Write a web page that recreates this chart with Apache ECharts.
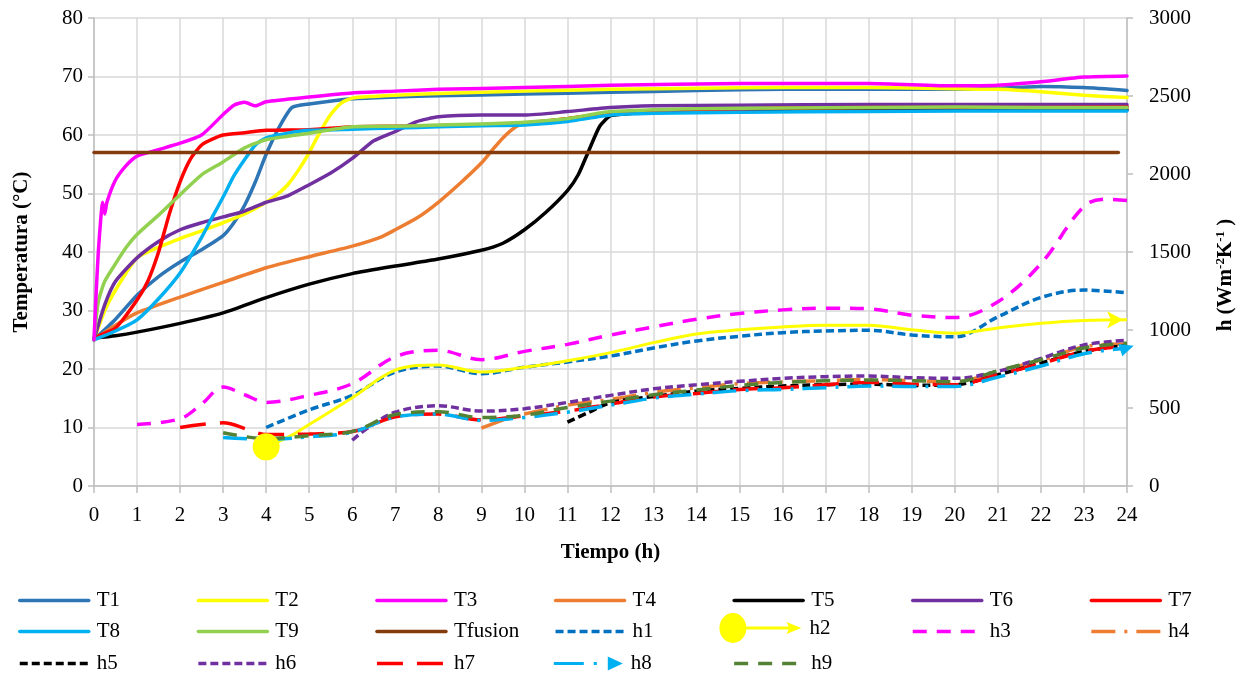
<!DOCTYPE html>
<html><head><meta charset="utf-8">
<script src="https://cdn.jsdelivr.net/npm/echarts@6/dist/echarts.min.js"></script>
<style>html,body{margin:0;padding:0;background:#fff}#c{width:1244px;height:677px}</style>
</head><body><div id="c"></div>
<script>
// ---- Temperature series (°C), time in hours ----
const tT1 = [0, 0.5, 1, 1.5, 2, 2.5, 3, 3.25, 3.5, 3.75, 4, 4.3, 4.6, 5, 6, 7, 8, 10, 12, 14, 16, 18, 20, 21, 22, 23, 24];
const vT1 = [25, 28.5, 32.6, 35.8, 38.3, 40.4, 42.8, 45, 48, 52, 56.7, 61.3, 64.7, 65.3, 66.2, 66.5, 66.7, 67, 67.3, 67.6, 67.8, 67.8, 67.8, 68, 68.3, 68.1, 67.6];
const tT2 = [0, 0.25, 0.5, 1, 1.5, 2, 2.5, 3, 3.5, 4, 4.25, 4.5, 4.75, 5, 5.25, 5.5, 5.75, 6, 6.5, 7, 8, 10, 12, 14, 16, 18, 20, 21, 22, 23, 24];
const vT2 = [25, 30, 33.5, 39, 40.8, 42.3, 43.6, 45, 46.5, 48.5, 49.8, 51.5, 54, 57, 60.5, 63.5, 65.5, 66.3, 66.6, 66.8, 67.1, 67.5, 67.8, 68, 68.1, 68.1, 67.9, 67.8, 67.4, 66.8, 66.4];
const tT3 = [0, 0.05, 0.1, 0.15, 0.2, 0.25, 0.3, 0.5, 0.75, 1, 1.5, 2, 2.5, 3, 3.25, 3.5, 3.75, 4, 5, 6, 7, 8, 10, 12, 15, 18, 20, 21, 22, 23, 24];
const vT3 = [25, 33, 40, 45, 48.5, 46.5, 48.5, 52.3, 54.8, 56.4, 57.5, 58.6, 60, 63.5, 65.1, 65.6, 65, 65.7, 66.5, 67.2, 67.5, 67.8, 68.1, 68.5, 68.8, 68.8, 68.4, 68.5, 69.1, 69.9, 70.1];
const tT4 = [0, 0.5, 1, 2, 3, 4, 5, 6, 6.65, 7, 7.5, 8, 8.5, 9, 9.25, 9.5, 9.8, 10, 11, 12, 14, 16, 18, 20, 22, 24];
const vT4 = [25, 27.5, 29.6, 32.3, 34.8, 37.3, 39.2, 41, 42.5, 43.8, 45.8, 48.5, 51.7, 55.2, 57.4, 59.5, 61.4, 62, 62.8, 63.8, 64.3, 64.7, 64.8, 64.8, 64.8, 64.9];
const tT5 = [0, 0.5, 1, 2, 3, 4, 5, 6, 7, 8, 9, 9.5, 10, 10.5, 11, 11.25, 11.5, 11.75, 12, 12.5, 13, 14, 16, 18, 20, 22, 24];
const vT5 = [25.3, 25.7, 26.3, 27.8, 29.6, 32.2, 34.5, 36.3, 37.6, 38.8, 40.3, 41.5, 43.8, 46.8, 50.5, 53.2, 57.4, 61.5, 63.3, 63.7, 64, 64.2, 64.3, 64.3, 64.3, 64.3, 64.3];
const tT6 = [0, 0.25, 0.5, 1, 1.5, 2, 2.5, 3, 3.5, 4, 4.5, 5, 5.5, 6, 6.5, 7, 7.5, 8, 9, 10, 11, 12, 13, 15, 18, 20, 22, 24];
const vT6 = [25, 31, 35, 39, 41.8, 43.8, 45, 46, 47, 48.5, 49.6, 51.5, 53.5, 56, 59, 60.6, 62.3, 63.1, 63.4, 63.4, 64, 64.7, 65, 65.1, 65.2, 65.2, 65.2, 65.2];
const tT7 = [0, 0.15, 0.5, 1, 1.25, 1.5, 1.75, 2, 2.25, 2.5, 2.75, 3, 3.5, 4, 5, 6, 7, 8, 10, 12, 14, 16, 18, 20, 22, 24];
const vT7 = [25, 25.8, 27, 31.8, 35, 40, 46.5, 52, 56, 58.3, 59.3, 60, 60.4, 60.8, 60.9, 61.4, 61.5, 61.6, 62, 63.6, 64.2, 64.6, 64.7, 64.7, 64.7, 64.8];
const tT8 = [0, 0.5, 1, 1.5, 2, 2.5, 2.75, 3, 3.25, 3.5, 3.75, 4, 4.5, 5, 6, 7, 8, 9, 10, 11, 12, 13, 15, 18, 20, 22, 24];
const vT8 = [25, 26.5, 28.4, 32, 36.4, 42.5, 46, 49.4, 53, 55.8, 58.3, 59.5, 60.3, 60.8, 61, 61.2, 61.4, 61.6, 61.7, 62.3, 63.4, 63.7, 63.9, 64, 64.1, 64.1, 64.1];
const tT9 = [0, 0.1, 0.25, 0.5, 0.75, 1, 1.5, 2, 2.5, 3, 3.5, 4, 5, 6, 7, 8, 9, 10, 11, 12, 14, 16, 18, 20, 22, 24];
const vT9 = [25, 31.5, 35, 38, 40.8, 43, 46.3, 49.8, 53.2, 55.4, 57.8, 59.2, 60.3, 61.4, 61.5, 61.7, 61.9, 62.2, 62.8, 64, 64.5, 64.6, 64.7, 64.8, 64.7, 64.7];
const tTf = [0, 23.8];
const vTf = [57, 57];

// ---- Heat transfer coefficient series h (W m-2 K-1) ----
const th1 = [4, 5, 6, 7, 8, 9, 10, 11, 12, 13, 14, 15, 16, 17, 18, 19, 20, 21, 22, 23, 24];
const vh1 = [375, 488, 581, 731, 769, 720, 761, 795, 833, 885, 930, 960, 983, 994, 998, 968, 956, 1084, 1208, 1256, 1238];
const th2 = [4, 4.6, 5, 6, 7, 8, 9, 10, 11, 12, 13, 14, 15, 16, 17, 18, 19, 20, 21, 22, 23, 24];
const vh2 = [251, 326, 394, 566, 743, 776, 731, 761, 803, 855, 919, 975, 1001, 1020, 1031, 1031, 1001, 979, 1013, 1043, 1061, 1065];
const th3 = [1, 2, 2.5, 3, 3.5, 4, 5, 6, 7, 8, 9, 10, 11, 12, 13, 14, 15, 16, 17, 18, 19, 20, 21, 22, 23, 23.5, 24];
const vh3 = [394, 431, 525, 634, 585, 536, 581, 656, 829, 870, 810, 863, 908, 968, 1020, 1069, 1106, 1129, 1140, 1136, 1095, 1080, 1181, 1425, 1793, 1838, 1830];
const th4 = [9, 9.7, 10, 11, 12, 13, 14, 15, 16, 17, 18, 19, 20, 21, 22, 23, 24];
const vh4 = [371, 443, 461, 518, 555, 600, 630, 656, 668, 675, 683, 675, 668, 735, 806, 893, 911];
const th5 = [11, 11.5, 12, 13, 14, 15, 16, 17, 18, 19, 20, 21, 22, 23, 24];
const vh5 = [409, 473, 533, 574, 608, 626, 641, 649, 653, 645, 649, 713, 788, 863, 900];
const th6 = [6, 6.3, 7, 8, 9, 10, 11, 12, 13, 14, 15, 16, 17, 18, 19, 20, 21, 22, 23, 24];
const vh6 = [293, 360, 473, 514, 480, 495, 536, 581, 623, 649, 671, 690, 701, 705, 694, 690, 735, 818, 904, 934];
const th7 = [2, 3, 3.6, 4, 5, 6, 7, 8, 9, 10, 11, 12, 13, 14, 15, 16, 17, 18, 19, 20, 21, 22, 23, 24];
const vh7 = [375, 405, 360, 330, 334, 349, 443, 461, 424, 450, 480, 525, 570, 593, 619, 630, 649, 664, 653, 649, 713, 784, 863, 900];
const th8 = [3, 4, 5, 6, 7, 8, 9, 10, 11, 12, 13, 14, 15, 16, 17, 18, 19, 20, 21, 22, 23, 24];
const vh8 = [311, 300, 315, 345, 443, 461, 420, 439, 473, 518, 563, 589, 611, 619, 630, 641, 638, 638, 698, 769, 848, 885];
const th9 = [3, 4, 5, 6, 7, 8, 9, 10, 11, 12, 13, 14, 15, 16, 17, 18, 19, 20, 21, 22, 23, 24];
const vh9 = [341, 304, 323, 349, 458, 476, 439, 454, 503, 544, 585, 615, 645, 664, 675, 679, 675, 668, 739, 810, 885, 915];

const legendNames = ['T1','T2','T3','T4','T5','T6','T7','T8','T9','Tfusion','h1','h2','h3','h4','h5','h6','h7','h8','h9'];

const FONT = 'Liberation Serif';
const pairs = (t, v) => t.map((x, i) => [x, v[i]]);

function tSeries(name, t, v, color, z) {
  return { name, type: 'line', xAxisIndex: 0, yAxisIndex: 0, data: pairs(t, v),
    symbol: 'none', smooth: 0.2, z: z || 2,
    lineStyle: { color, width: 3.5, cap: 'round', join: 'round' }, itemStyle: { color } };
}
function hSeries(name, t, v, color, dash, extra) {
  return Object.assign({ name, type: 'line', xAxisIndex: 0, yAxisIndex: 1, data: pairs(t, v),
    symbol: 'none', smooth: 0.35, z: 3,
    lineStyle: { color, width: 3.5, type: dash, cap: 'butt' }, itemStyle: { color } }, extra || {});
}

const h2Data = pairs(th2, vh2);
h2Data[0] = { value: h2Data[0], symbol: 'circle', symbolSize: 27, itemStyle: { color: '#FFFF00' } };
h2Data[h2Data.length - 1] = { value: h2Data[h2Data.length - 1], symbol: 'arrow', symbolSize: [13, 16], symbolRotate: -90, symbolOffset: [-4, 0], itemStyle: { color: '#FFFF00' } };
const h8Data = pairs(th8, vh8);
h8Data[h8Data.length - 1] = { value: h8Data[h8Data.length - 1], symbol: 'triangle', symbolSize: [13, 14], symbolRotate: -72, itemStyle: { color: '#00B0F0' } };

const series = [
  tSeries('T1', tT1, vT1, '#2E75B6'),
  tSeries('T2', tT2, vT2, '#FFFF00'),
  tSeries('T3', tT3, vT3, '#FF00FF', 4),
  tSeries('T4', tT4, vT4, '#ED7D31'),
  tSeries('T5', tT5, vT5, '#000000'),
  tSeries('T6', tT6, vT6, '#7030A0'),
  tSeries('T7', tT7, vT7, '#FF0000'),
  tSeries('T8', tT8, vT8, '#00B0F0'),
  tSeries('T9', tT9, vT9, '#92D050'),
  tSeries('Tfusion', tTf, vTf, '#843C0C', 5),
  hSeries('h1', th1, vh1, '#0070C0', [8, 4]),
  Object.assign(hSeries('h2', th2, vh2, '#FFFF00', 'solid'), { data: h2Data, lineStyle: { color: '#FFFF00', width: 3 } }),
  hSeries('h3', th3, vh3, '#FF00FF', [14, 10]),
  hSeries('h4', th4, vh4, '#ED7D31', [24, 9, 3, 9]),
  hSeries('h5', th5, vh5, '#000000', [8, 4]),
  hSeries('h6', th6, vh6, '#7030A0', [8, 4]),
  hSeries('h7', th7, vh7, '#FF0000', [26, 14]),
  Object.assign(hSeries('h8', th8, vh8, '#00B0F0', [24, 9, 3, 9]), { data: h8Data }),
  hSeries('h9', th9, vh9, '#548235', [14, 10])
];

const rowY = [597, 628, 660];
const legends = legendNames.map((n, i) => {
  const r = Math.floor(i / 7), c = i % 7;
  let left = 18 + 178.6 * c, iw = 69, ih = 14;
  const item = { name: n };
  if (n === 'h2') {
    left -= 13; iw = 82; ih = 30;
    item.icon = 'path://M0,15 A13.5,15 0 1,1 27,15 A13.5,15 0 1,1 0,15 Z M27,13.5 L72,13.5 L72,16.5 L27,16.5 Z M67,9 L82,15 L67,21 L70,15 Z';
    item.itemStyle = { color: '#FFFF00', borderWidth: 0, opacity: 1 };
  }
  if (n === 'h8') {
    item.icon = 'path://M0,5.5 L30,5.5 L30,8.5 L0,8.5 Z M40,5.5 L43,5.5 L43,8.5 L40,8.5 Z M54,0 L69,7 L54,14 Z';
    item.itemStyle = { color: '#00B0F0', borderWidth: 0, opacity: 1 };
  }
  return { show: true, data: [item], left, top: rowY[r] - ih / 2, itemWidth: iw, itemHeight: ih,
    padding: 0, selectedMode: false, orient: 'horizontal',
    itemStyle: { opacity: 0 },
    lineStyle: { width: 3.5 },
    textStyle: { fontFamily: FONT, fontSize: 21, color: '#000', padding: [0, 0, 0, 3] } };
});

const axisGray = '#BFBFBF';
const option = {
  animation: false,
  backgroundColor: '#ffffff',
  grid: { left: 94, right: 117, top: 18, bottom: 191 },
  legend: legends,
  graphic: [{
    type: 'text', x: 1226, y: 275, rotation: Math.PI / 2,
    style: {
      text: '{b|h (Wm}{s|-2}{b|K}{s|-1}{b| )}',
      align: 'center', verticalAlign: 'middle',
      rich: { b: { fontFamily: FONT, fontSize: 21, fontWeight: 'bold', fill: '#000', color: '#000', lineHeight: 24 },
              s: { fontFamily: FONT, fontSize: 13, fontWeight: 'bold', fill: '#000', color: '#000', verticalAlign: 'top', lineHeight: 14 } }
    }
  }],
  xAxis: {
    type: 'value', min: 0, max: 24, interval: 1,
    name: 'Tiempo (h)', nameLocation: 'middle', nameGap: 56,
    nameTextStyle: { fontFamily: FONT, fontSize: 21, fontWeight: 'bold', color: '#000' },
    axisLine: { show: true, lineStyle: { color: axisGray, width: 1.5 } },
    axisTick: { show: true, length: 7, lineStyle: { color: axisGray, width: 1.5 } },
    axisLabel: { fontFamily: FONT, fontSize: 21, color: '#000', margin: 19 },
    splitLine: { show: true, lineStyle: { color: '#D9D9D9', width: 1.5 } }
  },
  yAxis: [{
    type: 'value', min: 0, max: 80, interval: 10, position: 'left',
    name: 'Temperatura (°C)', nameLocation: 'middle', nameGap: 62, nameRotate: 90,
    nameTextStyle: { fontFamily: FONT, fontSize: 21, fontWeight: 'bold', color: '#000' },
    axisLine: { show: true, lineStyle: { color: axisGray, width: 1.5 } },
    axisTick: { show: true, length: 6, lineStyle: { color: axisGray, width: 1.5 } },
    axisLabel: { fontFamily: FONT, fontSize: 21, color: '#000', margin: 11 },
    splitLine: { show: true, lineStyle: { color: '#D9D9D9', width: 1.5 } }
  }, {
    type: 'value', min: 0, max: 3000, interval: 500, position: 'right',
    axisLine: { show: true, lineStyle: { color: axisGray, width: 1.5 } },
    axisTick: { show: true, length: 6, lineStyle: { color: axisGray, width: 1.5 } },
    axisLabel: { fontFamily: FONT, fontSize: 21, color: '#000', margin: 22, formatter: v => String(v) },
    splitLine: { show: false }
  }],
  series
};
const chart = echarts.init(document.getElementById('c'), null, { renderer: 'canvas' });
chart.setOption(option);
</script></body></html>
